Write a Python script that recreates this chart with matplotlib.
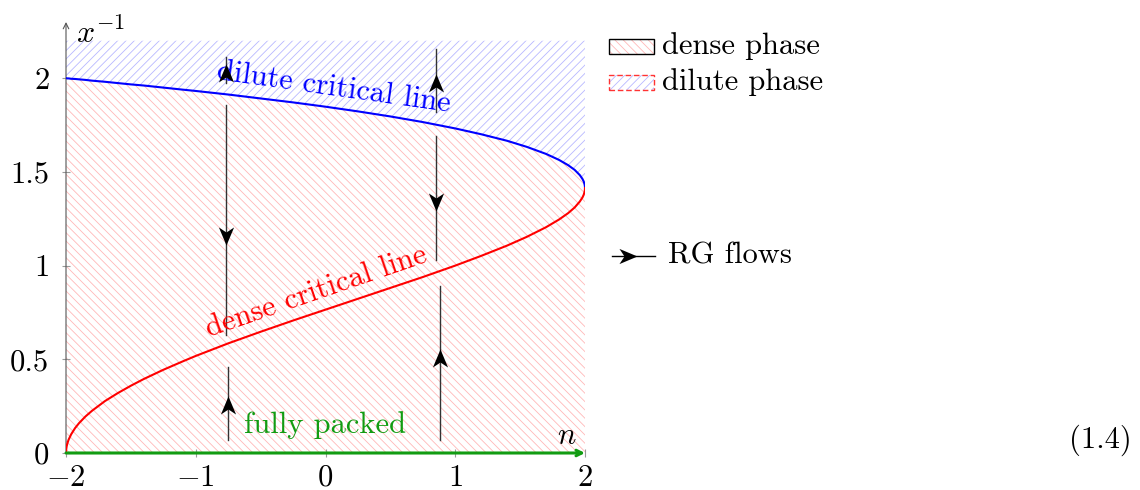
"""
O(n) loop model phase diagram
"""

import matplotlib
matplotlib.use('Agg')
import matplotlib.pyplot as plt
from matplotlib.patches import Rectangle
from matplotlib.path import Path

plt.rcParams['font.family'] = ['cmr10', 'DejaVu Serif']
plt.rcParams['mathtext.fontset'] = 'cm'
plt.rcParams['axes.formatter.use_mathtext'] = True
plt.rcParams['hatch.linewidth'] = 0.6

# data
n_vals = [-2.0, -1.999, -1.995, -1.99, -1.98, -1.96, -1.93, -1.9, -1.85, -1.8,
          -1.7, -1.6, -1.5, -1.4, -1.25, -1.1, -1.0, -0.75, -0.5, -0.25,
          0.0, 0.25, 0.5, 0.75, 1.0, 1.2, 1.4, 1.55, 1.7, 1.8,
          1.87, 1.92, 1.96, 1.98, 1.99, 1.996, 1.999, 2.0]
dilute_line = [2.000, 2.000, 2.000, 1.999, 1.999, 1.997, 1.996, 1.994, 1.991, 1.987,
               1.981, 1.974, 1.967, 1.961, 1.950, 1.939, 1.932, 1.913, 1.892, 1.871,
               1.848, 1.823, 1.796, 1.766, 1.732, 1.701, 1.666, 1.634, 1.596, 1.564,
               1.536, 1.511, 1.483, 1.463, 1.449, 1.436, 1.425, 1.414]
dense_line = [0.000, 0.016, 0.035, 0.050, 0.071, 0.100, 0.133, 0.159, 0.195, 0.225,
              0.277, 0.320, 0.359, 0.395, 0.444, 0.489, 0.518, 0.585, 0.647, 0.707,
              0.765, 0.823, 0.881, 0.939, 1.000, 1.052, 1.107, 1.153, 1.205, 1.246,
              1.280, 1.310, 1.342, 1.363, 1.378, 1.392, 1.403, 1.414]
region_top = 2.2

# RG flow segments: x, y start, y end, arrowhead y, direction
flow_x = [-0.767, -0.767, -0.752, 0.852, 0.852, 0.882]
flow_y0 = [2.112, 1.856, 0.459, 2.155, 1.691, 0.891]
flow_y1 = [1.973, 0.629, 0.069, 1.819, 1.029, 0.069]
flow_head = [2.030, 1.160, 0.256, 1.973, 1.339, 0.507]
flow_dir = ['up', 'down', 'up', 'up', 'down', 'up']

xticks = [-2, -1, 0, 1, 2]
xtick_labels = ['$-2$', '$-1$', '$0$', '$1$', '$2$']
yticks = [0, 0.5, 1, 1.5, 2]
ytick_labels = ['0', '0.5', '1', '1.5', '2']

BLUE_HATCH = '#b8b8ff'
RED_HATCH = '#ffb8b8'
GREEN = '#129c12'
FS = 22

W, H = 1140, 490
fig = plt.figure(figsize=(W / 100, H / 100), dpi=100)
ax = fig.add_axes([66 / W, 1 - 453 / H, (585 - 66) / W, (453 - 22) / H])
ax.set_xlim(-2, 2)
ax.set_ylim(0, 2.3)
for s in ax.spines.values():
    s.set_visible(False)

# hatched phases
ax.fill_between(n_vals, dilute_line, region_top, facecolor='none',
                edgecolor=BLUE_HATCH, hatch='////', linewidth=0)
ax.fill_between(n_vals, 0, dilute_line, facecolor='none',
                edgecolor=RED_HATCH, hatch='\\\\\\\\', linewidth=0)

# critical lines
ax.plot(n_vals, dilute_line, color='blue', lw=1.5, zorder=4)
ax.plot(n_vals, dense_line, color='red', lw=1.5, zorder=4)

# axes with arrows
ax.annotate('', xy=(-2, 2.3), xytext=(-2, 0),
            arrowprops=dict(arrowstyle='->', color='#555555', lw=0.8,
                            shrinkA=0, shrinkB=0), annotation_clip=False)
ax.annotate('', xy=(2.0, 0), xytext=(-2, 0),
            arrowprops=dict(arrowstyle='->', color=GREEN, lw=2.2,
                            shrinkA=0, shrinkB=0), annotation_clip=False, zorder=5)

ax.set_xticks(xticks)
ax.set_xticklabels(xtick_labels)
ax.set_yticks(yticks)
ax.set_yticklabels(ytick_labels)
ax.tick_params(direction='inout', length=6, width=0.8, color='#999999',
               labelsize=FS)
ax.tick_params(axis='x', pad=5)
ax.tick_params(axis='y', pad=9)

ax.text(-1.92, 2.24, '$x^{-1}$', fontsize=FS + 1, ha='left', va='center')
ax.text(1.86, 0.09, '$n$', fontsize=FS, ha='center', va='center')

# stealth arrowheads
up_head = Path([(0, 0.5), (-0.42, -0.5), (0, -0.22), (0.42, -0.5), (0, 0.5)],
               [Path.MOVETO, Path.LINETO, Path.LINETO, Path.LINETO, Path.CLOSEPOLY])
down_head = Path([(0, -0.5), (-0.42, 0.5), (0, 0.22), (0.42, 0.5), (0, -0.5)],
                 [Path.MOVETO, Path.LINETO, Path.LINETO, Path.LINETO, Path.CLOSEPOLY])

for x, y0, y1, yh, d in zip(flow_x, flow_y0, flow_y1, flow_head, flow_dir):
    ax.plot([x, x], [y0, y1], color='#333333', lw=1.0, zorder=3)
    ax.plot([x], [yh], marker=up_head if d == 'up' else down_head,
            markersize=13, color='black', markeredgewidth=0, zorder=6)

# labels
ax.text(0.06, 1.95, 'dilute critical line', color='blue', fontsize=FS,
        rotation=-8, ha='center', va='center', zorder=5)
ax.text(-0.07, 0.86, 'dense critical line', color='red', fontsize=FS,
        rotation=19, ha='center', va='center', zorder=5)
ax.text(0.0, 0.15, 'fully packed', color=GREEN, fontsize=FS,
        ha='center', va='center', zorder=5)

# legend
def fig_rect(x0, y0, w, h, **kw):
    r = Rectangle((x0 / W, 1 - (y0 + h) / H), w / W, h / H,
                  transform=fig.transFigure, **kw)
    fig.add_artist(r)

fig_rect(609, 39, 45, 15, facecolor='none', edgecolor=RED_HATCH,
         hatch='\\\\\\\\', linewidth=0)
fig_rect(609, 39, 45, 15, facecolor='none', edgecolor='black', linewidth=1.0)
fig.text(662 / W, 1 - 46 / H, 'dense phase', fontsize=FS, va='center')

fig_rect(609, 75, 45, 15, facecolor='none', edgecolor=BLUE_HATCH,
         hatch='////', linewidth=0)
fig_rect(609, 75, 45, 15, facecolor='none', edgecolor='#ff3333',
         linewidth=1.0, linestyle=(0, (4, 2)))
fig.text(662 / W, 1 - 82 / H, 'dilute phase', fontsize=FS, va='center')

fig.add_artist(plt.Line2D([612 / W, 655 / W], [1 - 256 / H, 1 - 256 / H],
                          transform=fig.transFigure, color='black', lw=1.0))
right_head = Path([(0.5, 0), (-0.5, -0.42), (-0.22, 0), (-0.5, 0.42), (0.5, 0)],
                  [Path.MOVETO, Path.LINETO, Path.LINETO, Path.LINETO, Path.CLOSEPOLY])
fig.add_artist(plt.Line2D([628 / W], [1 - 256 / H], transform=fig.transFigure,
                          marker=right_head, markersize=13, color='black',
                          markeredgewidth=0))
fig.text(668 / W, 1 - 256 / H, 'RG flows', fontsize=FS, va='center')

fig.text(1100 / W, 1 - 440 / H, '(1.4)', fontsize=FS, ha='center', va='center')

fig.savefig('out.png', dpi=100)
